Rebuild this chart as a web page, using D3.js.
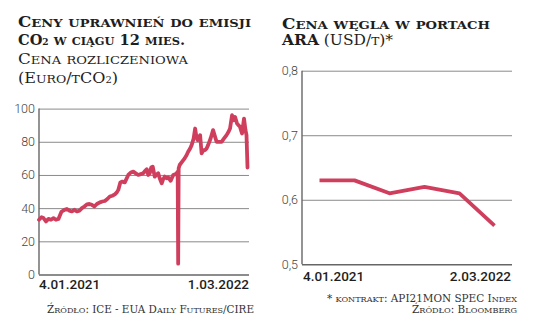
<!DOCTYPE html>
<html><head><meta charset="utf-8">
<script src="https://cdn.jsdelivr.net/npm/d3@7"></script>
<style>
body{margin:0;background:#fff;}
svg{display:block;}
</style></head><body>
<svg id="c" width="536" height="335"></svg>
<script>
// ---- Left chart data: EUA price (Euro/tCO2)
const euaDates = ["2021-01-04","2021-01-09","2021-01-13","2021-01-18","2021-01-23","2021-01-28","2021-02-02","2021-02-07","2021-02-12","2021-02-18","2021-02-24","2021-03-01","2021-03-06","2021-03-11","2021-03-16","2021-03-21","2021-03-26","2021-03-31","2021-04-05","2021-04-10","2021-04-15","2021-04-20","2021-04-25","2021-04-30","2021-05-06","2021-05-11","2021-05-16","2021-05-21","2021-05-26","2021-05-31","2021-06-05","2021-06-09","2021-06-12","2021-06-16","2021-06-20","2021-06-25","2021-07-02","2021-07-07","2021-07-12","2021-07-17","2021-07-22","2021-07-27","2021-08-01","2021-08-05","2021-08-08","2021-08-11","2021-08-14","2021-08-17","2021-08-20","2021-08-24","2021-08-27","2021-08-31","2021-09-03","2021-09-07","2021-09-10","2021-09-13","2021-09-17","2021-09-20","2021-09-25","2021-09-30","2021-10-04","2021-10-07","2021-10-09","2021-10-10","2021-10-11","2021-10-13","2021-10-18","2021-10-23","2021-10-27","2021-10-30","2021-11-03","2021-11-06","2021-11-10","2021-11-13","2021-11-15","2021-11-18","2021-11-23","2021-11-26","2021-11-30","2021-12-03","2021-12-06","2021-12-09","2021-12-14","2021-12-19","2021-12-22","2021-12-26","2021-12-31","2022-01-05","2022-01-10","2022-01-15","2022-01-19","2022-01-22","2022-01-26","2022-01-29","2022-02-01","2022-02-05","2022-02-08","2022-02-11","2022-02-15","2022-02-19","2022-02-22","2022-02-24","2022-02-26","2022-03-01"];
const euaValues = [33,34.5,34,32,33.5,33,34,33,33.5,37.8,39,39.5,38.5,38,39,38,38.5,40,41,42.3,42.5,42,41,42.5,43.5,44,44.3,45.5,47,47.5,48.3,49.5,51,55.5,56,55.5,60,61.5,62,61,60,60.5,61,62.5,63.5,60,61,64.5,65,59,60,61,58,55,57.5,59,58,58.5,56.5,60,60.5,61,62,6.5,64,66,68,70,72,74,76,78,82,88,84,81,84,73,75,75,76,78,82,87,84,80,80,80,82,84,86,88,96,93,95,91,90,89,85,94,87,84,64.5];
const euaTicks = [0,20,40,60,80,100];
const euaLabels = ["4.01.2021","1.03.2022"];

// ---- Right chart data: coal price in ARA ports (USD/t)
const coalPeriods = ["P1","P2","P3","P4","P5","P6"];
const coalValues = [0.63,0.63,0.61,0.62,0.61,0.56];
const coalTicks = [0.5,0.6,0.7,0.8];
const coalLabels = ["4.01.2021","2.03.2022"];

const svg = d3.select("#c");
const RED = "#cf3f5d";
const GRID = "#8a8a8a";
const AXIS = "#666";
const serif = "'DejaVu Serif', 'Liberation Serif', serif";
const sans = "Roboto, sans-serif";

// custom small caps: lowercase letters -> uppercase at reduced size
function caption(x, y, parts, opts) {
  const t = svg.append("text").attr("x", x).attr("y", y)
    .attr("font-family", serif).attr("font-size", opts.size)
    .attr("fill", opts.fill || "#1e1e1e")
    .attr("text-anchor", opts.anchor || "start");
  parts.forEach(p => {
    // split into runs of lowercase / other
    const runs = [];
    for (const ch of p.t) {
      const low = ch !== ch.toUpperCase();
      const last = runs[runs.length-1];
      if (last && last.low === low) last.s += ch; else runs.push({low, s: ch});
    }
    runs.forEach(r => {
      const s = t.append("tspan").text(r.low ? r.s.toUpperCase() : r.s)
        .attr("font-weight", p.b ? 700 : 400);
      if (p.s) s.attr("font-size", opts.size * 0.62);
      else if (r.low) s.attr("font-size", opts.size * 0.78);
    });
  });
  if (opts.len) t.attr("textLength", opts.len).attr("lengthAdjust", "spacingAndGlyphs");
  return t;
}

// ---- Titles
caption(18, 27, [{t:"Ceny uprawnień do emisji", b:1}], {size:14, len:233});
caption(18, 45, [{t:"CO", b:1},{t:"2", b:1, s:1},{t:" w ciągu 12 mies.", b:1}], {size:14, len:167});
caption(18, 64, [{t:"Cena rozliczeniowa"}], {size:14, len:170});
caption(18, 83, [{t:"(Euro/tCO"},{t:"2", s:1},{t:")"}], {size:14, len:100});

caption(282, 29, [{t:"Cena węgla w portach", b:1}], {size:14, len:208});
caption(282, 45, [{t:"ARA", b:1},{t:" (USD/t)*"}], {size:14, len:111});

// ---- Left chart
const L = {x0:39, x1:249, y0:274.5, y1:108.6};
const parse = d3.timeParse("%Y-%m-%d");
const ldata = euaDates.map((d,i)=>({d:parse(d), v:euaValues[i]}));
const lx = d3.scaleTime().domain([parse("2021-01-04"), parse("2022-03-01")]).range([L.x0, L.x1]);
const ly = d3.scaleLinear().domain([0,100]).range([L.y0, L.y1]);

const lg = svg.append("g");
lg.append("g").attr("transform", `translate(${L.x0},0)`)
  .call(d3.axisLeft(ly).tickValues(euaTicks).tickSize(-(L.x1-L.x0)).tickPadding(4).tickFormat(d3.format("d")))
  .call(g => {
    g.select(".domain").remove();
    g.selectAll(".tick line").attr("stroke", d => d===0 ? AXIS : GRID).attr("stroke-width", d => d===0 ? 1.6 : 1);
    g.selectAll(".tick text").attr("font-family", sans).attr("font-weight", 300).attr("font-size", 12.5).attr("fill", "#444");
  });
lg.append("line").attr("x1", L.x0).attr("x2", L.x0).attr("y1", ly(100)).attr("y2", ly(0)).attr("stroke", AXIS).attr("stroke-width", 1.4);

lg.append("path").datum(ldata)
  .attr("d", d3.line().x(d=>lx(d.d)).y(d=>ly(d.v)))
  .attr("fill","none").attr("stroke", RED).attr("stroke-width", 3.8)
  .attr("stroke-linejoin","round").attr("stroke-linecap","round");

lg.append("text").attr("x", L.x0).attr("y", 289).text(euaLabels[0])
  .attr("font-family", sans).attr("font-weight", 500).attr("font-size", 13.5).attr("fill", "#1e1e1e");
lg.append("text").attr("x", L.x1).attr("y", 289).attr("text-anchor","end").text(euaLabels[1])
  .attr("font-family", sans).attr("font-weight", 500).attr("font-size", 13.5).attr("fill", "#1e1e1e");

caption(47, 313, [{t:"Źródło: ICE - EUA Daily Futures/CIRE"}], {size:10.5, len:207, fill:"#333"});

// ---- Right chart
const R = {x0:302, x1:512, y0:264.3, y1:70.7};
const rx = d3.scalePoint().domain(coalPeriods).range([R.x0, R.x1]).padding(0.5);
const ry = d3.scaleLinear().domain([0.5,0.8]).range([R.y0, R.y1]);
const rg = svg.append("g");
rg.append("g").attr("transform", `translate(${R.x0},0)`)
  .call(d3.axisLeft(ry).tickValues(coalTicks).tickSize(-(R.x1-R.x0)).tickPadding(4).tickFormat(d => d3.format(".1f")(d).replace(".", ",")))
  .call(g => {
    g.select(".domain").remove();
    g.selectAll(".tick line").attr("stroke", d => d===0.5 ? AXIS : GRID).attr("stroke-width", d => d===0.5 ? 1.6 : 1);
    g.selectAll(".tick text").attr("font-family", sans).attr("font-weight", 300).attr("font-size", 12.5).attr("fill", "#444");
  });
rg.append("line").attr("x1", R.x0).attr("x2", R.x0).attr("y1", ry(0.8)).attr("y2", ry(0.5)).attr("stroke", AXIS).attr("stroke-width", 1.4);

rg.append("path").datum(coalValues)
  .attr("d", d3.line().x((d,i)=>rx(coalPeriods[i])).y(d=>ry(d)))
  .attr("fill","none").attr("stroke", RED).attr("stroke-width", 3.8)
  .attr("stroke-linejoin","round");

rg.append("text").attr("x", R.x0+1).attr("y", 281).text(coalLabels[0])
  .attr("font-family", sans).attr("font-weight", 500).attr("font-size", 13.5).attr("fill", "#1e1e1e");
rg.append("text").attr("x", R.x1-1).attr("y", 281).attr("text-anchor","end").text(coalLabels[1])
  .attr("font-family", sans).attr("font-weight", 500).attr("font-size", 13.5).attr("fill", "#1e1e1e");

caption(517, 302, [{t:"* kontrakt: API21MON SPEC Index"}], {size:10.5, len:190, anchor:"end", fill:"#333"});
caption(517, 312.5, [{t:"Źródło: Bloomberg"}], {size:10.5, len:105, anchor:"end", fill:"#333"});
</script>
</body></html>
